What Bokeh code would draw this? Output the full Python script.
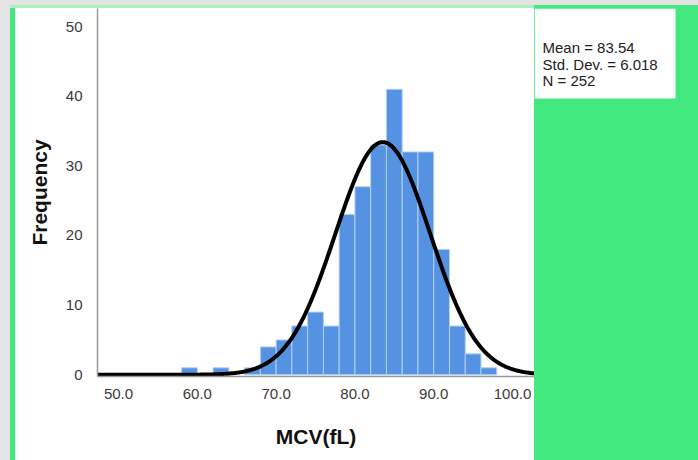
import numpy as np
from bokeh.plotting import figure
from bokeh.layouts import row
from bokeh.models import Range1d, FixedTicker, NumeralTickFormatter, ColumnDataSource
from bokeh.core.properties import value
from bokeh.embed import file_html
from bokeh.resources import INLINE

# ---- data ----
bin_start = [58, 60, 62, 64, 66, 68, 70, 72, 74, 76, 78, 80, 82, 84, 86, 88, 90, 92, 94, 96]
counts    = [1, 0, 1, 0, 1, 4, 5, 7, 9, 7, 23, 27, 33, 41, 32, 32, 18, 7, 3, 1]
bin_width = 2.0
mean_val = 83.54
std_dev = 6.018
n_total = 252
x_ticks = [50, 60, 70, 80, 90, 100]
y_ticks = [0, 10, 20, 30, 40, 50]
stats_lines = ["Mean = 83.54", "Std. Dev. = 6.018", "N = 252"]

FONT = "Liberation Sans"
GREEN = "#42e97e"

# ---------------- main histogram ----------------
p = figure(width=534, height=460, output_backend="svg", toolbar_location=None,
           x_range=Range1d(47.33, 102.79), y_range=Range1d(-0.25, 52.6),
           min_border_left=97, min_border_right=0, min_border_top=8, min_border_bottom=84)

p.styles = {"background": (
    "linear-gradient(#ffffff,#ffffff) 15px 8px / 519px 452px no-repeat, "
    "linear-gradient(#a6f2c0,#a6f2c0) 10px 5px / 524px 3px no-repeat, "
    "linear-gradient(#42e97e,#42e97e) 10px 5px / 524px 455px no-repeat, "
    "#e4e4e4")}
p.border_fill_alpha = 0
p.background_fill_color = "white"
p.outline_line_color = None
p.grid.visible = False

keep = [i for i, c in enumerate(counts) if c > 0]
src = ColumnDataSource(dict(
    left=[bin_start[i] for i in keep],
    right=[bin_start[i] + bin_width for i in keep],
    top=[counts[i] for i in keep]))
p.quad(left="left", right="right", bottom=0, top="top", source=src,
       fill_color="#5592e2", line_color="#b4cff2", line_width=1)

# fitted normal curve (from the stated mean / sd / N)
xs = np.linspace(47.33, 102.79, 400)
ys = n_total * bin_width / (std_dev * np.sqrt(2 * np.pi)) * np.exp(-0.5 * ((xs - mean_val) / std_dev) ** 2)
p.line(xs, ys, line_color="black", line_width=4)

for ax in (p.xaxis[0], p.yaxis[0]):
    ax.major_tick_line_color = None
    ax.minor_tick_line_color = None
    ax.axis_line_color = "#9a9a9a"
    ax.axis_line_width = 1.5
    ax.major_label_text_font = FONT
    ax.major_label_text_font_size = "15px"
    ax.major_label_text_color = "#3a3a3a"
    ax.axis_label_text_font = FONT
    ax.axis_label_text_font_style = "bold"
    ax.axis_label_text_font_size = "21px"
    ax.axis_label_text_color = "#111111"

p.xaxis.ticker = FixedTicker(ticks=x_ticks)
p.xaxis.formatter = NumeralTickFormatter(format="0.0")
p.xaxis.major_label_standoff = 6
p.xaxis.axis_label = "MCV(fL)"
p.xaxis.axis_label_standoff = 23

p.yaxis.ticker = FixedTicker(ticks=y_ticks)
p.yaxis.major_label_standoff = 9
p.yaxis.axis_label = "Frequency"
p.yaxis.axis_label_standoff = 12

# ---------------- right-hand stats panel ----------------
# (row aligns frames: q's frame spans canvas rows 8..376, so y data == canvas y)
q = figure(width=164, height=460, output_backend="svg", toolbar_location=None,
           x_range=Range1d(0, 164), y_range=Range1d(376, 8),
           min_border=0, min_border_left=0, min_border_right=0,
           min_border_top=8, min_border_bottom=84)
q.styles = {"background": (
    "linear-gradient(#e4e4e4,#e4e4e4) 0px 0px / 164px 5px no-repeat, "
    "#42e97e")}
q.axis.visible = False
q.grid.visible = False
q.outline_line_color = None
q.border_fill_alpha = 0
q.background_fill_color = GREEN
q.quad(left=[0], right=[141], top=[8], bottom=[98], fill_color="white", line_color=None)
q.text(x=[8, 8, 8], y=[47, 63.5, 80], text=stats_lines,
       text_font=value(FONT), text_font_size="15px", text_color="#222222",
       text_baseline="middle", text_align="left")

layout = row(p, q, spacing=0)
open("out.html", "w").write(file_html(layout, INLINE))
